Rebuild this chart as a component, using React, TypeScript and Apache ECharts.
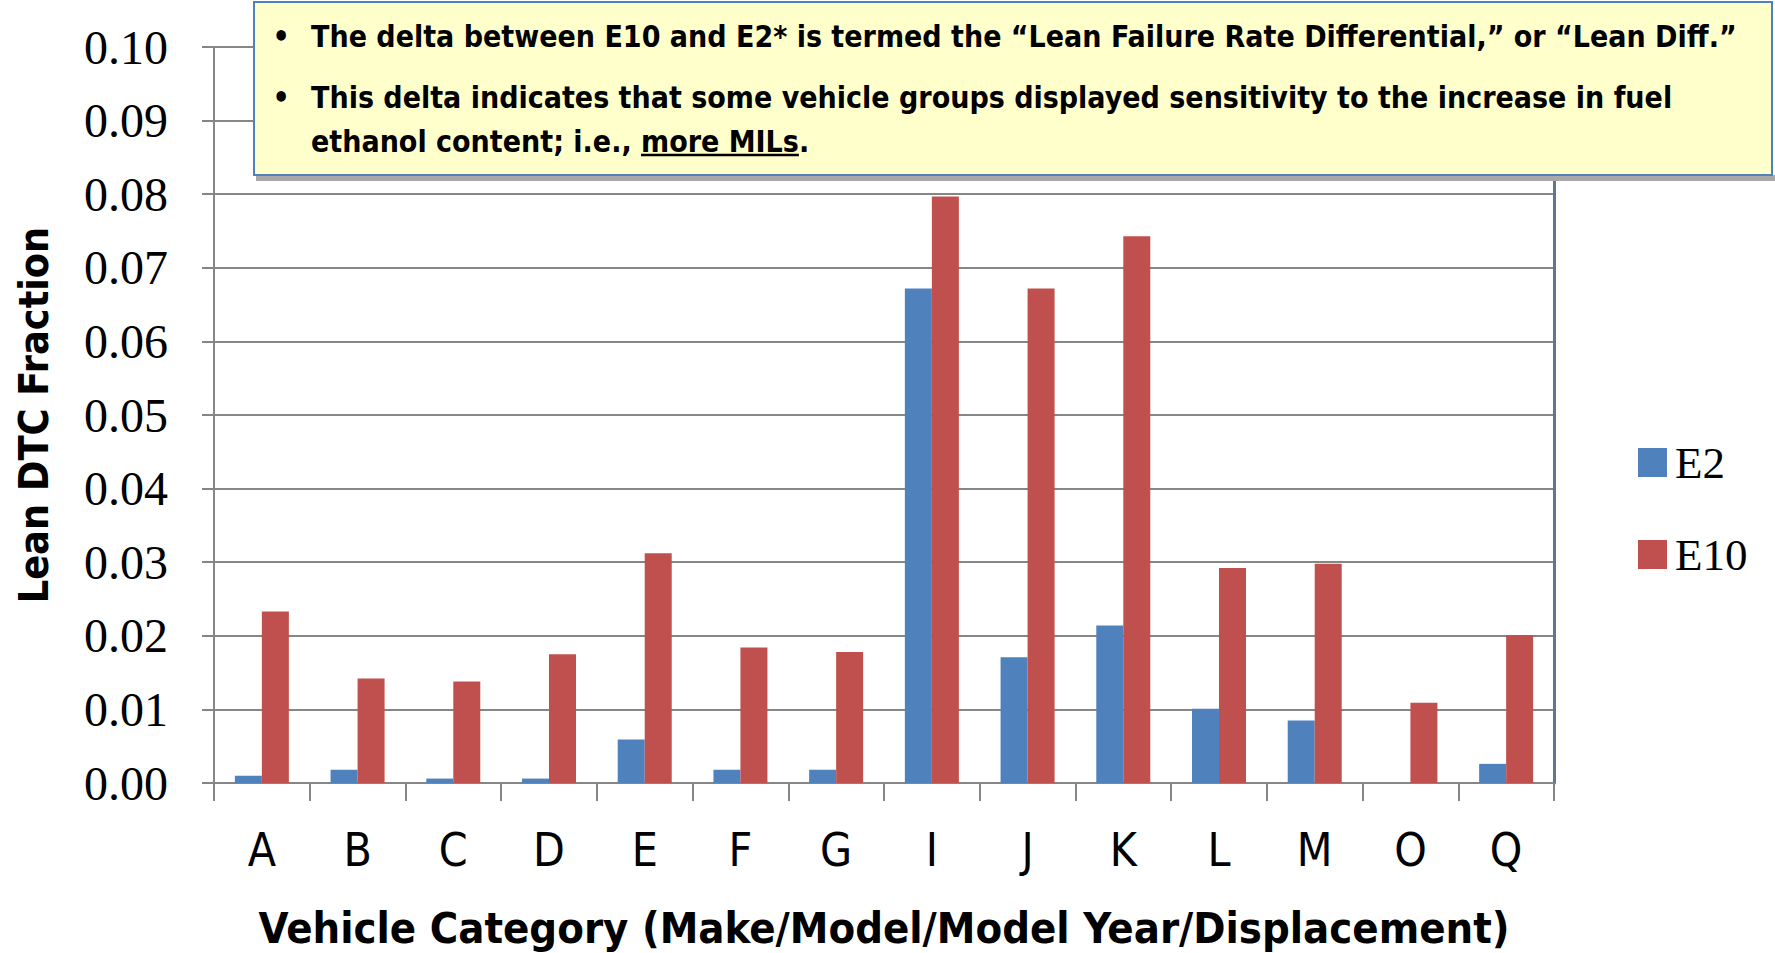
import React, { useEffect, useRef } from "react";
import * as echarts from "echarts";

const categories = ["A", "B", "C", "D", "E", "F", "G", "I", "J", "K", "L", "M", "O", "Q"];
const e2Values = [0.001, 0.0018, 0.0006, 0.0006, 0.0059, 0.0018, 0.0018, 0.0672, 0.0171, 0.0214, 0.0101, 0.0085, 0, 0.0026];
const e10Values = [0.0233, 0.0142, 0.0138, 0.0175, 0.0312, 0.0184, 0.0178, 0.0797, 0.0672, 0.0743, 0.0292, 0.0298, 0.0109, 0.0201];
const seriesNames = ["E2", "E10"];
const yMin = 0;
const yMax = 0.1;
const yInterval = 0.01;
const xTitle = "Vehicle Category (Make/Model/Model Year/Displacement)";
const yTitle = "Lean DTC Fraction";
const noteLine1 = "The delta between E10 and E2* is termed the \u201cLean Failure Rate Differential,\u201d or \u201cLean Diff.\u201d";
const noteLine2 = "This delta indicates that some vehicle groups displayed sensitivity to the increase in fuel";
const noteLine3Prefix = "ethanol content; i.e., ";
const noteLine3Underlined = "more MILs";
const noteLine3Suffix = ".";

const NARROW = "'Liberation Sans Narrow', 'DejaVu Sans Condensed', 'Open Sans', sans-serif";
const SERIF = "'Liberation Serif', 'DejaVu Serif', serif";

function measure(text: string, font: string): number {
  const ctx = document.createElement("canvas").getContext("2d");
  if (!ctx) return text.length * 15;
  ctx.font = font;
  return ctx.measureText(text).width;
}

function fitSize(text: string, weight: string, family: string, target: number, maxSize: number): number {
  const w = measure(text, `${weight} ${maxSize}px ${family}`);
  if (w <= 0) return maxSize;
  return Math.min(maxSize, Math.floor((maxSize * target) / w * 10) / 10);
}

export default function App() {
  const ref = useRef<HTMLDivElement>(null);

  useEffect(() => {
    if (!ref.current) return;
    const chart = echarts.init(ref.current, undefined, { renderer: "svg" });

    const noteSize = fitSize(noteLine1, "bold", NARROW, 1429, 36);
    const noteFont = `bold ${noteSize}px ${NARROW}`;
    const xTitleSize = fitSize(xTitle, "bold", NARROW, 1253, 56);
    const yTitleSize = fitSize(yTitle, "bold", NARROW, 377, 52);
    const textX = 311;
    const line3Y = 141;
    const prefixW = measure(noteLine3Prefix, noteFont);
    const underW = measure(noteLine3Underlined, noteFont);
    const noteStyle = {
      fontFamily: NARROW,
      fontWeight: "bold",
      fontSize: noteSize,
      fill: "#000000",
      verticalAlign: "middle",
      align: "left",
    };

    const gridColor = "#868686";

    const option: any = {
      animation: false,
      backgroundColor: "#ffffff",
      grid: { left: 214, right: 221, top: 47, bottom: 170, outerBoundsMode: "none", containLabel: false },
      legend: {
        orient: "vertical",
        left: 1633,
        top: 435,
        itemWidth: 29,
        itemHeight: 29,
        itemGap: 47,
        icon: "rect",
        data: seriesNames,
        textStyle: { fontFamily: SERIF, fontSize: 45, color: "#000000", padding: [0, 0, 0, 3] },
      },
      xAxis: {
        type: "category",
        data: categories,
        axisLine: { lineStyle: { color: gridColor, width: 2 } },
        axisTick: { show: true, length: 18, alignWithLabel: false, lineStyle: { color: gridColor, width: 2 } },
        axisLabel: { fontFamily: NARROW, fontSize: 46, color: "#000000", margin: 44 },
        name: xTitle,
        nameLocation: "middle",
        nameGap: 123,
        nameTextStyle: { fontFamily: NARROW, fontWeight: "bold", fontSize: xTitleSize, color: "#000000" },
      },
      yAxis: [
        {
          type: "value",
          min: yMin,
          max: yMax,
          interval: yInterval,
          axisLine: { show: true, lineStyle: { color: gridColor, width: 2 } },
          axisTick: { show: true, length: 12, lineStyle: { color: gridColor, width: 2 } },
          splitLine: { show: true, lineStyle: { color: gridColor, width: 2 } },
          axisLabel: {
            formatter: (v: number) => v.toFixed(2),
            fontFamily: SERIF,
            fontSize: 48,
            color: "#000000",
            margin: 46,
          },
          name: yTitle,
          nameLocation: "middle",
          nameRotate: 90,
          nameGap: 160,
          nameTextStyle: { fontFamily: NARROW, fontWeight: "bold", fontSize: yTitleSize, color: "#000000" },
        },
        {
          type: "value",
          position: "right",
          min: yMin,
          max: yMax,
          interval: yInterval,
          axisLine: { show: true, lineStyle: { color: "#61768f", width: 3 } },
          axisTick: { show: false },
          axisLabel: { show: false },
          splitLine: { show: false },
        },
      ],
      series: [
        {
          name: seriesNames[0],
          type: "bar",
          data: e2Values,
          barWidth: 27,
          barGap: "0%",
          itemStyle: { color: "#4F81BD" },
        },
        {
          name: seriesNames[1],
          type: "bar",
          data: e10Values,
          barWidth: 27,
          barGap: "0%",
          itemStyle: { color: "#C0504D" },
        },
      ],
      graphic: [
        {
          type: "rect",
          z: 100,
          shape: { x: 256, y: 175, width: 1519, height: 6 },
          style: { fill: "#a8a8a8" },
        },
        {
          type: "rect",
          z: 101,
          shape: { x: 254, y: 2, width: 1518, height: 173 },
          style: { fill: "#FFFFCC", stroke: "#4F81BD", lineWidth: 2 },
        },
        { type: "text", z: 102, x: 281, y: 36, style: { ...noteStyle, text: "\u2022", align: "center" } },
        { type: "text", z: 102, x: 281, y: 97, style: { ...noteStyle, text: "\u2022", align: "center" } },
        { type: "text", z: 102, x: textX, y: 36, style: { ...noteStyle, text: noteLine1 } },
        { type: "text", z: 102, x: textX, y: 97, style: { ...noteStyle, text: noteLine2 } },
        { type: "text", z: 102, x: textX, y: line3Y, style: { ...noteStyle, text: noteLine3Prefix } },
        { type: "text", z: 102, x: textX + prefixW, y: line3Y, style: { ...noteStyle, text: noteLine3Underlined } },
        { type: "text", z: 102, x: textX + prefixW + underW, y: line3Y, style: { ...noteStyle, text: noteLine3Suffix } },
        {
          type: "line",
          z: 102,
          shape: { x1: textX + prefixW, y1: line3Y + 14, x2: textX + prefixW + underW, y2: line3Y + 14 },
          style: { stroke: "#000000", lineWidth: 2.5 },
        },
      ],
    };

    chart.setOption(option);
    return () => chart.dispose();
  }, []);

  return (
    <div
      ref={ref}
      style={{ position: "fixed", left: 0, top: 0, width: "1775px", height: "953px", background: "#ffffff" }}
    />
  );
}
